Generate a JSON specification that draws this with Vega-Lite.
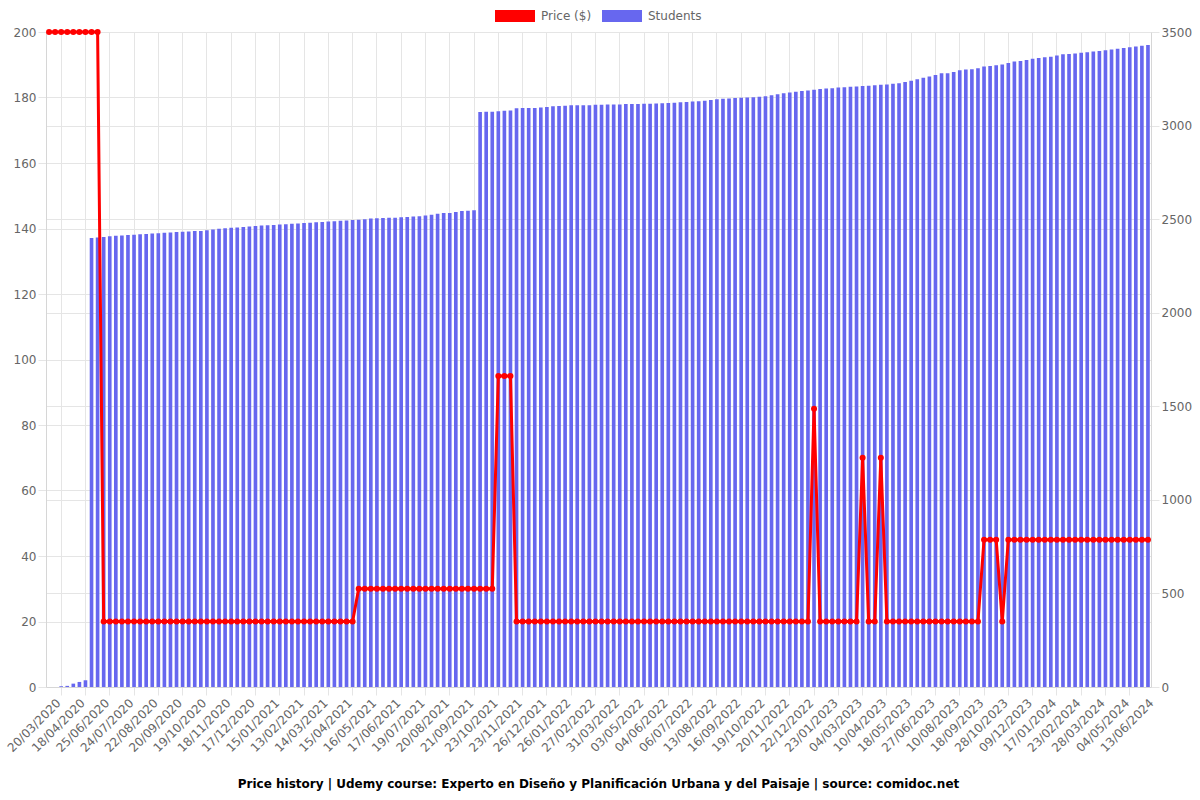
{
  "$schema": "https://vega.github.io/schema/vega-lite/v6.json",
  "width": 1105,
  "height": 655,
  "autosize": "none",
  "padding": {"left": 46, "top": 32, "right": 49, "bottom": 113},
  "config": {
    "font": "DejaVu Sans",
    "view": {"stroke": null},
    "axis": {"labelFont": "DejaVu Sans", "labelFontSize": 12, "labelColor": "#666666", "gridColor": "#e5e5e5", "tickColor": "#e5e5e5", "domainColor": "#d6d6d6", "title": null}
  },
  "title": {"text": "Price history | Udemy course: Experto en Diseño y Planificación Urbana y del Paisaje | source: comidoc.net", "orient": "bottom", "anchor": "middle", "fontSize": 12, "fontWeight": "bold", "font": "DejaVu Sans", "color": "#000000", "offset": 25},
  "data": {"values": [
    {"date": "13/03/2020", "price": 200, "students": 0},
    {"date": "20/03/2020", "price": 200, "students": 0},
    {"date": "27/03/2020", "price": 200, "students": 4},
    {"date": "04/04/2020", "price": 200, "students": 6},
    {"date": "11/04/2020", "price": 200, "students": 18},
    {"date": "18/04/2020", "price": 200, "students": 27},
    {"date": "05/05/2020", "price": 200, "students": 36},
    {"date": "22/05/2020", "price": 200, "students": 2399},
    {"date": "08/06/2020", "price": 200, "students": 2402},
    {"date": "25/06/2020", "price": 20, "students": 2405},
    {"date": "02/07/2020", "price": 20, "students": 2408},
    {"date": "09/07/2020", "price": 20, "students": 2411},
    {"date": "17/07/2020", "price": 20, "students": 2413},
    {"date": "24/07/2020", "price": 20, "students": 2415},
    {"date": "31/07/2020", "price": 20, "students": 2417},
    {"date": "07/08/2020", "price": 20, "students": 2419},
    {"date": "15/08/2020", "price": 20, "students": 2421},
    {"date": "22/08/2020", "price": 20, "students": 2423},
    {"date": "29/08/2020", "price": 20, "students": 2425},
    {"date": "05/09/2020", "price": 20, "students": 2427},
    {"date": "13/09/2020", "price": 20, "students": 2429},
    {"date": "20/09/2020", "price": 20, "students": 2431},
    {"date": "27/09/2020", "price": 20, "students": 2432},
    {"date": "04/10/2020", "price": 20, "students": 2434},
    {"date": "12/10/2020", "price": 20, "students": 2436},
    {"date": "19/10/2020", "price": 20, "students": 2437},
    {"date": "26/10/2020", "price": 20, "students": 2440},
    {"date": "03/11/2020", "price": 20, "students": 2444},
    {"date": "11/11/2020", "price": 20, "students": 2448},
    {"date": "18/11/2020", "price": 20, "students": 2451},
    {"date": "25/11/2020", "price": 20, "students": 2454},
    {"date": "02/12/2020", "price": 20, "students": 2456},
    {"date": "10/12/2020", "price": 20, "students": 2458},
    {"date": "17/12/2020", "price": 20, "students": 2461},
    {"date": "24/12/2020", "price": 20, "students": 2464},
    {"date": "31/12/2020", "price": 20, "students": 2466},
    {"date": "08/01/2021", "price": 20, "students": 2468},
    {"date": "15/01/2021", "price": 20, "students": 2469},
    {"date": "22/01/2021", "price": 20, "students": 2471},
    {"date": "29/01/2021", "price": 20, "students": 2473},
    {"date": "06/02/2021", "price": 20, "students": 2475},
    {"date": "13/02/2021", "price": 20, "students": 2477},
    {"date": "20/02/2021", "price": 20, "students": 2479},
    {"date": "27/02/2021", "price": 20, "students": 2481},
    {"date": "07/03/2021", "price": 20, "students": 2483},
    {"date": "14/03/2021", "price": 20, "students": 2485},
    {"date": "22/03/2021", "price": 20, "students": 2487},
    {"date": "30/03/2021", "price": 20, "students": 2489},
    {"date": "07/04/2021", "price": 20, "students": 2491},
    {"date": "15/04/2021", "price": 20, "students": 2493},
    {"date": "23/04/2021", "price": 20, "students": 2495},
    {"date": "01/05/2021", "price": 30, "students": 2497},
    {"date": "08/05/2021", "price": 30, "students": 2500},
    {"date": "16/05/2021", "price": 30, "students": 2503},
    {"date": "24/05/2021", "price": 30, "students": 2505},
    {"date": "01/06/2021", "price": 30, "students": 2506},
    {"date": "09/06/2021", "price": 30, "students": 2507},
    {"date": "17/06/2021", "price": 30, "students": 2508},
    {"date": "25/06/2021", "price": 30, "students": 2510},
    {"date": "03/07/2021", "price": 30, "students": 2512},
    {"date": "11/07/2021", "price": 30, "students": 2514},
    {"date": "19/07/2021", "price": 30, "students": 2516},
    {"date": "27/07/2021", "price": 30, "students": 2519},
    {"date": "04/08/2021", "price": 30, "students": 2524},
    {"date": "12/08/2021", "price": 30, "students": 2529},
    {"date": "20/08/2021", "price": 30, "students": 2533},
    {"date": "28/08/2021", "price": 30, "students": 2533},
    {"date": "05/09/2021", "price": 30, "students": 2538},
    {"date": "13/09/2021", "price": 30, "students": 2543},
    {"date": "21/09/2021", "price": 30, "students": 2545},
    {"date": "29/09/2021", "price": 30, "students": 2548},
    {"date": "07/10/2021", "price": 30, "students": 3072},
    {"date": "15/10/2021", "price": 30, "students": 3074},
    {"date": "23/10/2021", "price": 30, "students": 3074},
    {"date": "31/10/2021", "price": 95, "students": 3076},
    {"date": "08/11/2021", "price": 95, "students": 3079},
    {"date": "15/11/2021", "price": 95, "students": 3081},
    {"date": "23/11/2021", "price": 20, "students": 3092},
    {"date": "01/12/2021", "price": 20, "students": 3094},
    {"date": "09/12/2021", "price": 20, "students": 3094},
    {"date": "17/12/2021", "price": 20, "students": 3094},
    {"date": "26/12/2021", "price": 20, "students": 3096},
    {"date": "03/01/2022", "price": 20, "students": 3099},
    {"date": "11/01/2022", "price": 20, "students": 3103},
    {"date": "18/01/2022", "price": 20, "students": 3105},
    {"date": "26/01/2022", "price": 20, "students": 3106},
    {"date": "03/02/2022", "price": 20, "students": 3109},
    {"date": "11/02/2022", "price": 20, "students": 3109},
    {"date": "19/02/2022", "price": 20, "students": 3109},
    {"date": "27/02/2022", "price": 20, "students": 3109},
    {"date": "07/03/2022", "price": 20, "students": 3111},
    {"date": "15/03/2022", "price": 20, "students": 3111},
    {"date": "23/03/2022", "price": 20, "students": 3113},
    {"date": "31/03/2022", "price": 20, "students": 3113},
    {"date": "08/04/2022", "price": 20, "students": 3113},
    {"date": "16/04/2022", "price": 20, "students": 3115},
    {"date": "25/04/2022", "price": 20, "students": 3115},
    {"date": "03/05/2022", "price": 20, "students": 3115},
    {"date": "11/05/2022", "price": 20, "students": 3116},
    {"date": "19/05/2022", "price": 20, "students": 3117},
    {"date": "27/05/2022", "price": 20, "students": 3118},
    {"date": "04/06/2022", "price": 20, "students": 3119},
    {"date": "12/06/2022", "price": 20, "students": 3120},
    {"date": "20/06/2022", "price": 20, "students": 3122},
    {"date": "28/06/2022", "price": 20, "students": 3124},
    {"date": "06/07/2022", "price": 20, "students": 3126},
    {"date": "15/07/2022", "price": 20, "students": 3128},
    {"date": "25/07/2022", "price": 20, "students": 3130},
    {"date": "04/08/2022", "price": 20, "students": 3133},
    {"date": "13/08/2022", "price": 20, "students": 3136},
    {"date": "21/08/2022", "price": 20, "students": 3140},
    {"date": "29/08/2022", "price": 20, "students": 3143},
    {"date": "07/09/2022", "price": 20, "students": 3145},
    {"date": "16/09/2022", "price": 20, "students": 3147},
    {"date": "24/09/2022", "price": 20, "students": 3149},
    {"date": "02/10/2022", "price": 20, "students": 3150},
    {"date": "11/10/2022", "price": 20, "students": 3152},
    {"date": "19/10/2022", "price": 20, "students": 3154},
    {"date": "27/10/2022", "price": 20, "students": 3157},
    {"date": "04/11/2022", "price": 20, "students": 3162},
    {"date": "12/11/2022", "price": 20, "students": 3168},
    {"date": "20/11/2022", "price": 20, "students": 3173},
    {"date": "28/11/2022", "price": 20, "students": 3177},
    {"date": "06/12/2022", "price": 20, "students": 3181},
    {"date": "14/12/2022", "price": 20, "students": 3185},
    {"date": "22/12/2022", "price": 20, "students": 3188},
    {"date": "30/12/2022", "price": 85, "students": 3192},
    {"date": "07/01/2023", "price": 20, "students": 3195},
    {"date": "15/01/2023", "price": 20, "students": 3198},
    {"date": "23/01/2023", "price": 20, "students": 3200},
    {"date": "02/02/2023", "price": 20, "students": 3203},
    {"date": "12/02/2023", "price": 20, "students": 3205},
    {"date": "22/02/2023", "price": 20, "students": 3207},
    {"date": "04/03/2023", "price": 20, "students": 3209},
    {"date": "13/03/2023", "price": 70, "students": 3211},
    {"date": "22/03/2023", "price": 20, "students": 3213},
    {"date": "01/04/2023", "price": 20, "students": 3215},
    {"date": "10/04/2023", "price": 70, "students": 3218},
    {"date": "20/04/2023", "price": 20, "students": 3220},
    {"date": "29/04/2023", "price": 20, "students": 3223},
    {"date": "08/05/2023", "price": 20, "students": 3226},
    {"date": "18/05/2023", "price": 20, "students": 3233},
    {"date": "28/05/2023", "price": 20, "students": 3240},
    {"date": "07/06/2023", "price": 20, "students": 3248},
    {"date": "17/06/2023", "price": 20, "students": 3256},
    {"date": "27/06/2023", "price": 20, "students": 3262},
    {"date": "08/07/2023", "price": 20, "students": 3270},
    {"date": "19/07/2023", "price": 20, "students": 3279},
    {"date": "30/07/2023", "price": 20, "students": 3279},
    {"date": "10/08/2023", "price": 20, "students": 3286},
    {"date": "19/08/2023", "price": 20, "students": 3295},
    {"date": "29/08/2023", "price": 20, "students": 3299},
    {"date": "08/09/2023", "price": 20, "students": 3301},
    {"date": "18/09/2023", "price": 20, "students": 3306},
    {"date": "28/09/2023", "price": 45, "students": 3315},
    {"date": "08/10/2023", "price": 45, "students": 3318},
    {"date": "18/10/2023", "price": 45, "students": 3322},
    {"date": "28/10/2023", "price": 20, "students": 3327},
    {"date": "07/11/2023", "price": 45, "students": 3334},
    {"date": "18/11/2023", "price": 45, "students": 3343},
    {"date": "28/11/2023", "price": 45, "students": 3345},
    {"date": "09/12/2023", "price": 45, "students": 3350},
    {"date": "19/12/2023", "price": 45, "students": 3357},
    {"date": "28/12/2023", "price": 45, "students": 3361},
    {"date": "07/01/2024", "price": 45, "students": 3365},
    {"date": "17/01/2024", "price": 45, "students": 3368},
    {"date": "26/01/2024", "price": 45, "students": 3374},
    {"date": "04/02/2024", "price": 45, "students": 3381},
    {"date": "14/02/2024", "price": 45, "students": 3383},
    {"date": "23/02/2024", "price": 45, "students": 3385},
    {"date": "03/03/2024", "price": 45, "students": 3389},
    {"date": "12/03/2024", "price": 45, "students": 3392},
    {"date": "20/03/2024", "price": 45, "students": 3396},
    {"date": "28/03/2024", "price": 45, "students": 3399},
    {"date": "07/04/2024", "price": 45, "students": 3403},
    {"date": "17/04/2024", "price": 45, "students": 3406},
    {"date": "26/04/2024", "price": 45, "students": 3410},
    {"date": "04/05/2024", "price": 45, "students": 3414},
    {"date": "14/05/2024", "price": 45, "students": 3419},
    {"date": "24/05/2024", "price": 45, "students": 3423},
    {"date": "03/06/2024", "price": 45, "students": 3426},
    {"date": "13/06/2024", "price": 45, "students": 3431}
  ]},
  "layer": [
    {
      "mark": {"type": "bar"},
      "encoding": {
        "x": {"field": "date", "type": "ordinal", "sort": null,
              "scale": {"paddingInner": 0.4, "paddingOuter": 0.2},
              "axis": {"orient": "bottom", "values": ["27/03/2020","05/05/2020","02/07/2020","31/07/2020","29/08/2020","27/09/2020","26/10/2020","25/11/2020","24/12/2020","22/01/2021","20/02/2021","22/03/2021","23/04/2021","24/05/2021","25/06/2021","27/07/2021","28/08/2021","29/09/2021","31/10/2021","01/12/2021","03/01/2022","03/02/2022","07/03/2022","08/04/2022","11/05/2022","12/06/2022","15/07/2022","21/08/2022","24/09/2022","27/10/2022","28/11/2022","30/12/2022","02/02/2023","13/03/2023","20/04/2023","28/05/2023","08/07/2023","19/08/2023","28/09/2023","07/11/2023","19/12/2023","26/01/2024","03/03/2024","07/04/2024","14/05/2024"],
                       "labels": false, "domain": false, "grid": true, "ticks": true, "tickSize": 8}},
        "y": {"field": "students", "type": "quantitative", "scale": {"domain": [0, 3500]},
              "axis": {"orient": "right", "format": "d", "values": [0,500,1000,1500,2000,2500,3000,3500], "grid": true, "tickSize": 8, "labelPadding": 2}},
        "color": {"datum": "Students",
                  "scale": {"domain": ["Price ($)", "Students"], "range": ["#ff0000", "#6767ef"]},
                  "legend": {"orient": "none", "legendX": 449, "legendY": -36, "direction": "horizontal", "title": null,
                             "symbolType": "M-1,-0.3H1V0.3H-1Z", "symbolSize": 1600, "symbolStrokeWidth": 0,
                             "labelFontSize": 12, "labelColor": "#666666", "labelFont": "DejaVu Sans", "labelOffset": 6, "columnPadding": 10}}
      }
    },
    {
      "mark": {"type": "line", "color": "#ff0000", "strokeWidth": 3, "point": {"filled": true, "size": 36, "color": "#ff0000"}},
      "encoding": {
        "x": {"field": "date", "type": "ordinal", "sort": null,
              "scale": {"paddingInner": 0.4, "paddingOuter": 0.2},
              "axis": {"orient": "bottom", "values": ["20/03/2020","18/04/2020","25/06/2020","24/07/2020","22/08/2020","20/09/2020","19/10/2020","18/11/2020","17/12/2020","15/01/2021","13/02/2021","14/03/2021","15/04/2021","16/05/2021","17/06/2021","19/07/2021","20/08/2021","21/09/2021","23/10/2021","23/11/2021","26/12/2021","26/01/2022","27/02/2022","31/03/2022","03/05/2022","04/06/2022","06/07/2022","13/08/2022","16/09/2022","19/10/2022","20/11/2022","22/12/2022","23/01/2023","04/03/2023","10/04/2023","18/05/2023","27/06/2023","10/08/2023","18/09/2023","28/10/2023","09/12/2023","17/01/2024","23/02/2024","28/03/2024","04/05/2024","13/06/2024"],
                       "grid": false, "ticks": false, "domain": true, "labelAngle": -45, "labelPadding": 10}},
        "y": {"field": "price", "type": "quantitative", "scale": {"domain": [0, 200]},
              "axis": {"orient": "left", "values": [0,20,40,60,80,100,120,140,160,180,200], "grid": true, "tickSize": 8, "labelPadding": 2}}
      }
    }
  ],
  "resolve": {"scale": {"y": "independent"}, "axis": {"x": "independent"}}
}
